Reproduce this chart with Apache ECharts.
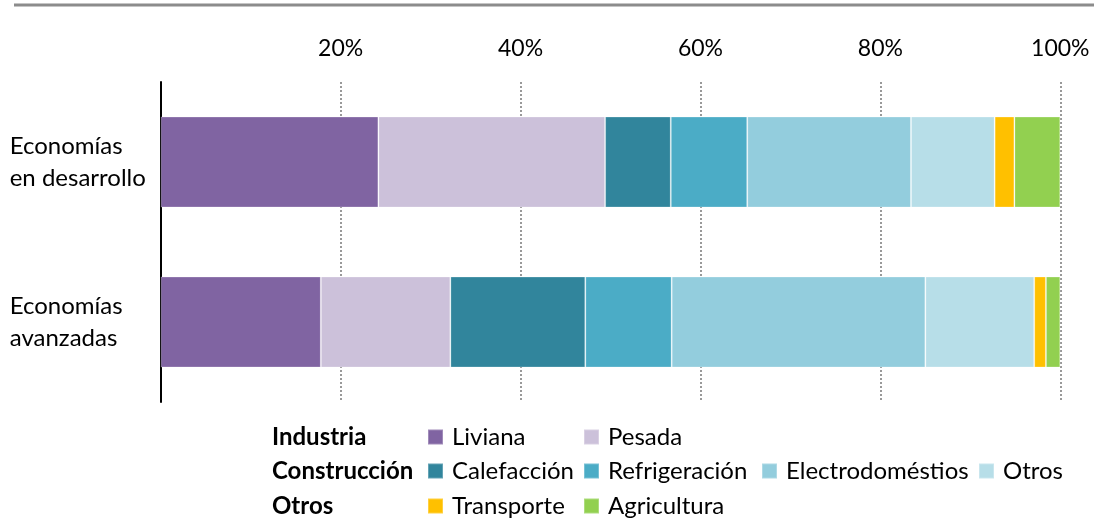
<!DOCTYPE html>
<html>
<head>
<meta charset="utf-8">
<script src="https://cdn.jsdelivr.net/npm/echarts@6/dist/echarts.min.js"></script>
<style>
  html, body { margin: 0; padding: 0; background: #fff; }
  #chart { width: 1094px; height: 520px; }
</style>
</head>
<body>
<div id="chart"></div>
<script>
// categorías (de arriba hacia abajo)
const categories = ['Economías\nen desarrollo', 'Economías\navanzadas'];
const tickLabels = ['20%', '40%', '60%', '80%', '100%'];

// participación (%) por uso final
const liviana       = [24.2, 17.8];
const pesada        = [25.2, 14.4];
const calefaccion   = [7.3, 15.0];
const refrigeracion = [8.5, 9.6];
const electro       = [18.2, 28.2];
const otrosConst    = [9.3, 12.1];
const transporte    = [2.2, 1.3];
const agricultura   = [5.1, 1.6];

const seriesDefs = [
  { name: 'Liviana', data: liviana, color: '#8064A2' },
  { name: 'Pesada', data: pesada, color: '#CCC1DA' },
  { name: 'Calefacción', data: calefaccion, color: '#31859C' },
  { name: 'Refrigeración', data: refrigeracion, color: '#4BACC6' },
  { name: 'Electrodoméstios', data: electro, color: '#93CDDD' },
  { name: 'Otros', data: otrosConst, color: '#B7DEE8' },
  { name: 'Transporte', data: transporte, color: '#FFC000' },
  { name: 'Agricultura', data: agricultura, color: '#92D050' }
];

const FONT = 'Lato, "Open Sans", sans-serif';
const FS = 24;

// posición de cada elemento de la leyenda (columna x, fila)
const legendPos = {
  'Liviana': [427, 0], 'Pesada': [583, 0],
  'Calefacción': [427, 1], 'Refrigeración': [583, 1],
  'Electrodoméstios': [761, 1], 'Otros': [978, 1],
  'Transporte': [427, 2], 'Agricultura': [583, 2]
};
const rowCenters = [437, 471, 506];

const chart = echarts.init(document.getElementById('chart'));

const option = {
  animation: false,
  textStyle: { fontFamily: FONT },
  grid: { left: 160.7, right: 33.7, top: 82, bottom: 118, containLabel: false },
  xAxis: {
    type: 'value',
    position: 'top',
    min: 0,
    max: 100,
    interval: 20,
    axisLine: { show: false },
    axisTick: { show: false },
    axisLabel: {
      margin: 22,
      fontSize: 23,
      color: '#000',
      fontFamily: FONT,
      formatter: function (v) {
        return v === 0 ? '' : tickLabels[v / 20 - 1];
      }
    },
    splitLine: {
      show: true,
      lineStyle: { color: '#999999', width: 2, type: [2, 2] }
    }
  },
  yAxis: {
    type: 'category',
    inverse: true,
    data: categories,
    axisLine: { show: true, lineStyle: { color: '#000', width: 2 } },
    axisTick: { show: false },
    axisLabel: {
      align: 'left',
      margin: 151,
      fontSize: FS,
      lineHeight: 32,
      padding: [3, 0, 0, 0],
      color: '#000',
      fontFamily: FONT
    }
  },
  legend: seriesDefs.map(s => ({
    data: [s.name],
    left: legendPos[s.name][0],
    top: rowCenters[legendPos[s.name][1]] - 12,
    padding: 0,
    itemWidth: 15,
    itemHeight: 15,
    icon: 'rect',
    selectedMode: false,
    textStyle: { fontSize: FS, lineHeight: 24, color: '#000', fontFamily: FONT, padding: [0, 0, 0, 4] }
  })),
  graphic: [
    {
      type: 'line',
      shape: { x1: 14, y1: 5, x2: 1094, y2: 5 },
      style: { stroke: '#8C8C8C', lineWidth: 3 }
    },
    { type: 'text', left: 272, top: rowCenters[0] - 12, style: { text: 'Industria', font: 'bold ' + FS + 'px ' + FONT, fill: '#000' } },
    { type: 'text', left: 272, top: rowCenters[1] - 12, style: { text: 'Construcción', font: 'bold ' + FS + 'px ' + FONT, fill: '#000' } },
    { type: 'text', left: 272, top: rowCenters[2] - 12, style: { text: 'Otros', font: 'bold ' + FS + 'px ' + FONT, fill: '#000' } }
  ],
  series: seriesDefs.map(s => ({
    name: s.name,
    type: 'bar',
    stack: 'total',
    barWidth: 91,
    data: s.data,
    itemStyle: {
      color: s.color,
      borderColor: 'rgba(255,255,255,0.25)',
      borderWidth: 1
    }
  }))
};

chart.setOption(option);
</script>
</body>
</html>
